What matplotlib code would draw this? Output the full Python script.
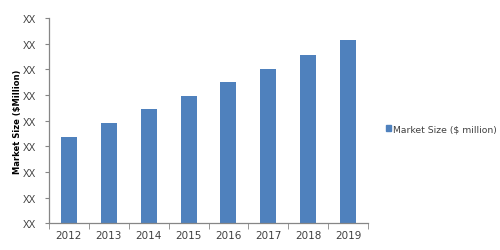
import matplotlib
matplotlib.use("Agg")
import matplotlib.pyplot as plt
from matplotlib.patches import Patch

# data (axis units: one gridstep = 1)
years = ["2012", "2013", "2014", "2015", "2016", "2017", "2018", "2019"]
market_size = [3.38, 3.91, 4.44, 4.96, 5.49, 6.03, 6.56, 7.13]
y_ticks = [0, 1, 2, 3, 4, 5, 6, 7, 8]
y_tick_labels = ["XX"] * 9

bar_color = "#4F81BD"
axis_color = "#868686"
text_color = "#404040"

fig = plt.figure(figsize=(5.0, 2.51), dpi=100)
ax = fig.add_axes([0.098, 0.106, 0.638, 0.818])

x = list(range(len(years)))
ax.bar(x, market_size, width=0.4, color=bar_color, zorder=2)

ax.set_xlim(-0.5, len(years) - 0.5)
ax.set_ylim(0, 8)

# category labels centred, tick marks on the boundaries
ax.set_xticks(x)
ax.set_xticklabels(years, fontsize=7.5, color=text_color)
ax.set_xticks([i - 0.5 for i in range(len(years) + 1)], minor=True)
ax.tick_params(axis="x", which="major", length=0, pad=5)
ax.tick_params(axis="x", which="minor", length=4, color=axis_color, direction="out")

ax.set_yticks(y_ticks)
ax.set_yticklabels(y_tick_labels, fontsize=7.2, color=text_color,
                   family="Liberation Sans")
ax.tick_params(axis="y", length=3, color=axis_color, direction="out", pad=6)

for side in ["top", "right"]:
    ax.spines[side].set_visible(False)
for side in ["left", "bottom"]:
    ax.spines[side].set_color(axis_color)
    ax.spines[side].set_linewidth(0.9)

fig.text(0.036, 0.516, "Market Size ($Million)", rotation=90,
         ha="center", va="center", fontsize=6, fontweight="bold",
         color="black")

handle = Patch(facecolor=bar_color, edgecolor=bar_color)
fig.legend([handle], ["Market Size ($ million)"], loc="center left",
           bbox_to_anchor=(0.772, 0.482), frameon=False,
           prop={"size": 6.7}, borderaxespad=0, borderpad=0,
           handlelength=0.55, handleheight=0.55, handletextpad=0.25,
           labelcolor=text_color)

fig.savefig("out.png", dpi=100)
